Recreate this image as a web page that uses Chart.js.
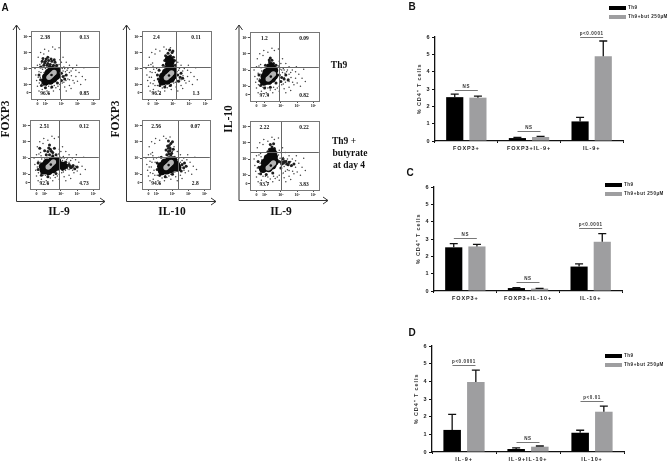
<!DOCTYPE html>
<html><head><meta charset="utf-8">
<script src="https://cdn.jsdelivr.net/npm/chart.js@4"></script>
<style>
html,body{margin:0;padding:0;background:#fff}
#root{position:relative;width:669px;height:464px;overflow:hidden;filter:blur(.4px)}
canvas{position:absolute}
.t{position:absolute;white-space:nowrap;transform:translate(-50%,-50%);color:#111}
.s{font-family:"Liberation Serif",serif;font-weight:bold}
.a{font-family:"Liberation Sans",Arial,sans-serif;font-weight:bold;font-size:10px}
svg{position:absolute;left:0;top:0}
</style></head><body><div id="root">
<svg width="669" height="464" fill="none" stroke="#333" stroke-width="1">
<path d="M16.5 25V201.5H105M13 30L16.5 25L20 30M100 198L105 201.5L100 205"/>
<path d="M126.5 25V201.5H216M123 30L126.5 25L130 30M211 198L216 201.5L211 205"/>
<path d="M239 25V200.5H328M235.500 30L239 25L242.500 30M323 197L328 200.500L323 204"/>
</svg>
</div>
<script>
// ---------- bar chart values ----------
const seriesNames = ['Th9', 'Th9+but 250\u00b5M'];
const catsB = ['FOXP3+', 'FOXP3+IL-9+', 'IL-9+'];
const th9B = [2.53, 0.17, 1.13];
const butB = [2.50, 0.23, 4.89];
const th9TopB = [2.71, 0.21, 1.36];
const butTopB = [2.59, 0.27, 5.77];
const sigLabelsB = ['NS', 'NS', 'p<0.0001'];
const sigLevelsB = [2.96, 0.55, 6.0];

const catsC = ['FOXP3+', 'FOXP3+IL-10+', 'IL-10+'];
const th9C = [2.52, 0.17, 1.41];
const butC = [2.57, 0.14, 2.84];
const th9TopC = [2.73, 0.19, 1.57];
const butTopC = [2.69, 0.155, 3.31];
const sigLabelsC = ['NS', 'NS', 'p<0.0001'];
const sigLevelsC = [3.04, 0.54, 3.64];

const catsD = ['IL-9+', 'IL-9+IL-10+', 'IL-10+'];
const th9D = [1.25, 0.17, 1.09];
const butD = [3.96, 0.30, 2.28];
const th9TopD = [2.13, 0.23, 1.23];
const butTopD = [4.64, 0.34, 2.60];
const sigLabelsD = ['p<0.0001', 'NS', 'p<0.01'];
const sigLevelsD = [4.9, 0.55, 2.87];

// ---------- flow cytometry panels: quadrant percentages (UL, UR, LL, LR) ----------
const stats1 = ['2.38', '0.13', '96.6', '0.85'];
const stats2 = ['2.4', '0.11', '96.2', '1.3'];
const stats3 = ['1.2', '0.09', '97.9', '0.82'];
const stats4 = ['2.51', '0.12', '92.6', '4.73'];
const stats5 = ['2.56', '0.07', '94.6', '2.8'];
const stats6 = ['2.22', '0.22', '93.7', '3.83'];
// quadrant gates, in log decades
const gate1 = [2.94, 3.08], gate2 = [3.2, 3.08], gate3 = [2.9, 3.2];
const gate4 = [2.9, 3.08], gate5 = [3.33, 3.08], gate6 = [3.0, 3.45];
const decadeTicks = [1.5, 2, 3, 4, 5];
const decadeLabels = ['0', '10\u00b2', '10\u00b3', '10\u2074', '10\u2075'];

// estimated event clouds [x, y], in log decades
const dense1 = [[2.0,2.2],[2.1,2.28],[2.25,2.4],[2.4,2.6],[2.58,2.78],[2.68,2.88],[2.05,2.48],[2.3,2.25],[2.5,2.38],[2.68,2.55],[2.2,2.72],[2.42,2.9],[2.15,2.35],[2.55,2.6],[2.3,2.78]];
const lobe1 = [[1.7,3.1],[1.9,3.2],[2.1,3.2],[2.3,3.25],[2.5,3.2],[2.7,3.2],[2.0,3.45],[2.2,3.5],[2.4,3.45],[1.8,3.45],[2.6,3.4],[2.15,3.7],[3.0,2.7],[3.1,2.5],[3.2,2.35],[3.0,2.25],[3.3,2.6],[1.7,2.3],[1.6,2.6],[1.75,1.95],[2.0,1.8],[2.4,1.85],[2.75,2.1],[1.95,3.35],[2.15,3.32],[2.35,3.6],[2.55,3.55],[1.85,3.62],[2.25,3.15],[2.05,3.6]];
const dense2 = [[2.35,2.2],[2.48,2.28],[2.6,2.4],[2.76,2.55],[2.92,2.72],[3.0,2.85],[2.4,2.5],[2.65,2.25],[2.88,2.38],[3.0,2.55],[2.58,2.75],[2.8,2.92],[2.78,3.25],[2.85,3.42],[2.75,3.55],[2.7,2.45],[2.82,3.1]];
const lobe2 = [[2.4,3.2],[2.5,3.5],[2.55,3.8],[2.7,3.95],[2.95,4.0],[3.1,3.5],[3.15,3.2],[3.0,4.1],[2.8,4.15],[3.3,2.6],[3.45,2.45],[3.5,2.7],[3.35,2.2],[3.6,2.4],[2.1,2.35],[2.05,2.6],[2.2,1.95],[2.5,1.85],[2.85,1.95],[2.15,2.9],[2.6,3.3],[2.55,3.1],[2.62,3.65],[2.85,3.8],[3.02,3.7]];
const dense3 = [[1.95,2.3],[2.05,2.38],[2.2,2.5],[2.3,2.68],[2.48,2.86],[2.58,2.98],[2.0,2.6],[2.25,2.35],[2.45,2.48],[2.58,2.65],[2.12,2.85],[2.33,3.0],[2.38,3.2]];
const lobe3 = [[2.2,3.3],[2.3,3.5],[2.45,3.6],[2.55,3.4],[2.7,3.3],[2.05,3.3],[2.35,3.75],[2.9,2.7],[3.05,2.55],[3.2,2.45],[3.0,2.3],[3.3,2.7],[3.45,2.4],[1.7,2.35],[1.65,2.7],[1.75,2.05],[2.0,1.9],[2.35,1.95],[2.7,2.2],[2.15,3.15],[2.6,3.2],[2.4,3.42],[2.28,3.62]];
const dense4 = [[1.95,2.25],[2.05,2.28],[2.25,2.4],[2.44,2.57],[2.62,2.72],[2.76,2.82],[1.9,2.48],[2.25,2.2],[2.52,2.33],[2.76,2.48],[2.15,2.72],[2.48,2.85],[2.98,2.55],[3.15,2.52]];
const lobe4 = [[2.1,3.2],[2.2,3.4],[2.35,3.55],[2.5,3.35],[2.6,3.6],[2.7,3.2],[2.0,3.45],[2.3,3.8],[1.7,3.6],[3.2,2.6],[3.35,2.45],[3.5,2.6],[3.6,2.4],[3.75,2.55],[3.85,2.35],[4.0,2.45],[3.3,2.75],[3.1,2.3],[1.6,2.3],[1.6,2.7],[1.8,1.95],[2.2,1.85],[2.7,2.05],[2.3,3.2],[2.42,3.42],[2.25,3.62],[3.4,2.55],[3.55,2.5],[3.7,2.45],[3.25,2.4],[2.5,3.15]];
const dense5 = [[2.35,2.2],[2.48,2.28],[2.6,2.4],[2.76,2.57],[2.92,2.72],[3.05,2.85],[2.3,2.5],[2.65,2.25],[2.88,2.33],[3.1,2.45],[2.52,2.72],[2.8,2.85],[3.22,2.58],[3.3,2.42]];
const lobe5 = [[2.65,3.2],[2.75,3.4],[2.85,3.6],[2.7,3.75],[2.95,3.3],[3.05,3.55],[2.9,3.9],[2.6,3.5],[2.75,4.05],[3.0,4.0],[3.6,2.6],[3.7,2.4],[3.75,2.7],[3.55,2.2],[3.85,2.5],[2.05,2.3],[2.05,2.7],[2.2,1.95],[2.55,1.85],[3.0,2.0],[2.3,3.05],[2.78,3.25],[2.85,3.45],[2.75,3.6],[2.9,3.2],[2.8,3.78]];
const dense6 = [[1.9,2.4],[2.0,2.48],[2.15,2.6],[2.36,2.8],[2.48,2.98],[2.56,3.15],[2.02,2.78],[2.25,2.45],[2.48,2.62],[2.62,2.85],[2.2,3.05],[2.4,3.25],[2.48,3.42]];
const lobe6 = [[2.3,3.6],[2.45,3.75],[2.6,3.65],[2.2,3.45],[2.7,3.4],[2.55,3.95],[2.35,3.9],[2.9,2.85],[3.05,2.7],[3.2,2.85],[3.35,2.7],[3.5,2.8],[3.65,2.6],[3.8,2.7],[3.1,3.0],[3.0,2.45],[1.65,2.5],[1.6,2.85],[1.75,2.1],[2.1,2.05],[2.5,2.15],[3.0,2.8],[3.15,2.75],[3.3,2.85],[3.45,2.65],[2.4,3.6],[2.52,3.55]];
const coreLow = [[2.22,2.45],[2.3,2.52],[2.38,2.6],[2.46,2.68],[2.54,2.76]];
const coreHigh = [[2.6,2.42],[2.68,2.5],[2.76,2.57],[2.84,2.65],[2.92,2.73]];
const speckCloud = [[1.4,2.6],[1.5,3.2],[1.55,3.7],[1.7,4.0],[1.9,3.9],[2.2,4.1],[2.6,4.2],[3.1,3.7],[3.3,3.4],[3.5,3.2],[3.7,3.0],[3.9,2.9],[4.1,2.75],[4.3,2.5],[4.0,2.2],[3.8,2.1],[3.5,1.95],[3.2,1.85],[2.9,1.7],[2.5,1.6],[2.1,1.6],[1.8,1.7],[1.5,1.9],[1.45,2.25],[3.4,3.0],[3.6,2.85],[3.15,3.1],[1.95,4.2],[2.45,4.35],[2.85,4.3],[3.6,1.75],[4.2,2.0],[1.35,3.0],[1.6,1.6],[3.3,1.6],[3.95,3.2],[4.5,2.3],[1.75,3.35],[2.2,1.45],[4.4,3.05],
 [1.62,2.1],[1.68,2.45],[1.72,2.75],[1.82,2.95],[1.55,2.45],[1.6,2.8],[1.9,1.95],[2.05,1.95],[2.2,1.9],[2.35,1.78],[2.55,1.95],[2.65,1.8],[2.78,1.9],[2.9,2.0],[3.05,2.1],[3.15,2.15],[3.28,2.25],[3.4,2.35],[3.5,2.3],[3.62,2.55],[3.2,2.55],[3.25,2.8],[3.1,2.85],[3.05,3.0],[2.95,3.05],[3.2,3.0],[3.35,2.9],[3.5,2.75],[3.72,2.25],[3.9,2.5],[1.85,2.25],[1.78,2.05],[1.92,2.75],[2.0,3.0],[2.15,3.05],[2.85,3.25],[3.0,3.4],[2.9,3.55],[1.65,3.25],[1.78,3.15]];

const root = document.getElementById('root');
function txt(s, x, y, cls, size, rot) {
  const d = document.createElement('div');
  d.className = 't ' + cls; d.textContent = s;
  d.style.left = x + 'px'; d.style.top = y + 'px';
  if (size) d.style.fontSize = size + 'px';
  if (rot) d.style.transform = 'translate(-50%,-50%) rotate(-90deg)';
  root.appendChild(d);
}
function mkCanvas(l, t, w, h) {
  const c = document.createElement('canvas');
  c.width = w; c.height = h; c.style.left = l + 'px'; c.style.top = t + 'px';
  root.appendChild(c); return c.getContext('2d');
}
[['FOXP3',5,119,11.5],['FOXP3',115,119,11.5],['IL-10',228,119,11.5]].forEach(a => txt(a[0], a[1], a[2], 's', a[3], true));
[['IL-9',59,211],['IL-10',172,211],['IL-9',281,211]].forEach(a => txt(a[0], a[1], a[2], 's', 11.5));
txt('Th9', 339, 65, 's', 9.5);
txt('Th9 +', 344, 141, 's', 9.5);
txt('butyrate', 350, 153, 's', 9.5);
txt('at day 4', 349, 165, 's', 9.5);
txt('A', 5, 7, 'a'); txt('B', 412, 6, 'a'); txt('C', 410, 172, 'a'); txt('D', 412, 332, 'a');

const LABEL_FONT = '"Liberation Sans", Arial, sans-serif';
const barPlugin = {
  id: 'barExtras',
  beforeDraw(c) { c.ctx.letterSpacing = '0.9px'; },
  afterDatasetsDraw(c) {
    const o = c.config.options.extras, ctx = c.ctx, y = c.scales.y, x = c.scales.x;
    ctx.save();
    [0, 1].forEach(i => {
      const meta = c.getDatasetMeta(i);
      o.tops[i].forEach((v, k) => {
        const px = meta.data[k].x, top = y.getPixelForValue(v), base = meta.data[k].y;
        ctx.strokeStyle = '#111'; ctx.lineWidth = 1.3;
        ctx.beginPath(); ctx.moveTo(px, base); ctx.lineTo(px, top);
        ctx.moveTo(px - 4, top); ctx.lineTo(px + 4, top); ctx.stroke();
      });
    });
    ctx.font = 'bold 4.5px ' + LABEL_FONT; ctx.textAlign = 'center'; ctx.textBaseline = 'bottom';
    ctx.letterSpacing = '0.6px';
    o.sigLevels.forEach((v, k) => {
      const cx = x.getPixelForValue(k), py = Math.round(y.getPixelForValue(v)) + .5;
      ctx.strokeStyle = '#777'; ctx.lineWidth = 1;
      ctx.beginPath(); ctx.moveTo(cx - 11.5, py); ctx.lineTo(cx + 11.5, py); ctx.stroke();
      ctx.fillStyle = '#333'; ctx.fillText(o.sigLabels[k], cx, py - 1);
    });
    ctx.textAlign = 'left'; ctx.textBaseline = 'middle'; ctx.letterSpacing = '0.55px';
    seriesNames.forEach((n, i) => {
      const ly = o.legendY + i * 9;
      ctx.fillStyle = c.data.datasets[i].backgroundColor;
      ctx.fillRect(o.legendX, ly - 2, 17, 4);
      ctx.fillStyle = '#222'; ctx.fillText(n, o.legendX + 19, ly);
    });
    ctx.restore();
  }
};
function barChart(cfg) {
  const ctx = mkCanvas(cfg.left, cfg.y0, 669 - cfg.left, cfg.h);
  new Chart(ctx, {
    type: 'bar',
    plugins: [barPlugin],
    data: { labels: cfg.cats, datasets: [
      { label: seriesNames[0], data: cfg.a, backgroundColor: '#000000', categoryPercentage: 0.74, barPercentage: 0.74 },
      { label: seriesNames[1], data: cfg.b, backgroundColor: '#9e9ea0', categoryPercentage: 0.74, barPercentage: 0.74 }
    ]},
    options: {
      responsive: false, animation: false,
      layout: { padding: { top: cfg.top, right: cfg.right, left: 0, bottom: 0 } },
      plugins: { legend: { display: false }, tooltip: { enabled: false } },
      extras: { tops: cfg.tops, sigLevels: cfg.sigLevels, sigLabels: cfg.sigLabels, legendX: cfg.lx, legendY: cfg.ly },
      scales: {
        x: { grid: { display: true, drawOnChartArea: false, tickLength: 2, color: '#111', tickWidth: 1 },
             border: { color: '#111', width: 1.2 },
             ticks: { color: '#222', font: { family: LABEL_FONT, size: 5.5, weight: 'bold' }, padding: 2, maxRotation: 0, autoSkip: false },
             afterFit(s) { s.height = 12; } },
        y: { min: 0, max: 6,
             grid: { display: true, drawOnChartArea: false, tickLength: 3, color: '#111', tickWidth: 1 },
             border: { color: '#111', width: 1.3 },
             ticks: { stepSize: 1, color: '#222', font: { family: LABEL_FONT, size: 5.5, weight: 'bold' }, padding: 1.500 },
             title: { display: true, text: '% CD4\u207a T cells', color: '#333', padding: { top: 11, bottom: 0 },
                      font: { family: LABEL_FONT, size: 5.5, weight: 'bold' } },
             afterFit(s) { s.width = 30; } }
      }
    }
  });
}
barChart({ left: 405, y0: 0, h: 153, top: 37, right: 46, cats: catsB, a: th9B, b: butB, tops: [th9TopB, butTopB], sigLevels: sigLevelsB, sigLabels: sigLabelsB, lx: 204, ly: 8 });
barChart({ left: 404, y0: 165, h: 138, top: 22, right: 47, cats: catsC, a: th9C, b: butC, tops: [th9TopC, butTopC], sigLevels: sigLevelsC, sigLabels: sigLabelsC, lx: 201, ly: 20 });
barChart({ left: 402, y0: 325, h: 139, top: 21, right: 45, cats: catsD, a: th9D, b: butD, tops: [th9TopD, butTopD], sigLevels: sigLevelsD, sigLabels: sigLabelsD, lx: 203, ly: 31 });

const flowPlugin = {
  id: 'flowExtras',
  afterDatasetsDraw(c) {
    const o = c.config.options.extras, ctx = c.ctx, a = c.chartArea, x = c.scales.x, y = c.scales.y;
    ctx.save();
    ctx.strokeStyle = '#666'; ctx.lineWidth = 1;
    const gx = Math.round(x.getPixelForValue(o.gate[0])) + .5, gy = Math.round(y.getPixelForValue(o.gate[1])) + .5;
    ctx.beginPath(); ctx.moveTo(gx, a.top); ctx.lineTo(gx, a.bottom); ctx.moveTo(a.left, gy); ctx.lineTo(a.right, gy); ctx.stroke();
    ctx.strokeStyle = '#777';
    ctx.strokeRect(Math.round(a.left) + .5, Math.round(a.top) + .5, Math.round(a.width), Math.round(a.height));
    ctx.font = 'bold 5.5px "Liberation Serif", serif'; ctx.fillStyle = '#111'; ctx.textAlign = 'center'; ctx.textBaseline = 'middle';
    const xs = [1.98, 4.42, 1.98, 4.42], ys = [4.96, 4.96, 1.42, 1.42];
    o.stats.forEach((s, i) => ctx.fillText(s, x.getPixelForValue(xs[i]), y.getPixelForValue(ys[i])));
    ctx.restore();
  }
};
function xy(list) { return list.map(p => ({ x: p[0], y: p[1] })); }
function flowChart(cfg) {
  const ax = (h) => ({
    type: 'linear', min: 1.1, max: 5.33,
    afterBuildTicks(s) { s.ticks = decadeTicks.map(v => ({ value: v })); },
    grid: { display: true, drawOnChartArea: false, tickLength: 2, color: '#222', tickWidth: .8 },
    border: { display: false },
    ticks: { autoSkip: false, maxRotation: 0, padding: .5, color: '#222',
      font: { family: '"Liberation Serif", serif', size: 4, weight: 'bold' },
      callback(v) { return decadeLabels[decadeTicks.indexOf(v)]; } },
    afterFit: h
  });
  const ctx = mkCanvas(cfg.l - 14, cfg.t - 2, cfg.w + 16, cfg.h + 12);
  const ds = (label, list, r, color) => ({ label, data: xy(list), pointRadius: r, pointBackgroundColor: color, pointBorderWidth: 0, showLine: false });
  new Chart(ctx, {
    type: 'scatter',
    plugins: [flowPlugin],
    data: { datasets: [
      ds('centre', cfg.core.slice(2, 3), 1.3, '#111111'),
      ds('core', cfg.core, 2.7, '#b4b4b4'),
      ds('dense', cfg.dense, 4.2, '#0a0a0a'),
      ds('lobe', cfg.lobe, 1.5, '#1e1e1e'),
      ds('speck', speckCloud, 0.75, '#444444')
    ]},
    options: {
      responsive: false, animation: false,
      layout: { padding: { top: 2, right: 2, left: 0, bottom: 0 } },
      plugins: { legend: { display: false }, tooltip: { enabled: false } },
      extras: { gate: cfg.gate, stats: cfg.stats },
      scales: { x: ax(s => { s.height = 10; }), y: ax(s => { s.width = 14; }) }
    }
  });
}
flowChart({ l: 31, t: 29, w: 70, h: 70, dense: dense1, lobe: lobe1, core: coreLow, gate: gate1, stats: stats1 });
flowChart({ l: 142, t: 29, w: 71, h: 70, dense: dense2, lobe: lobe2, core: coreHigh, gate: gate2, stats: stats2 });
flowChart({ l: 250, t: 30, w: 71, h: 71, dense: dense3, lobe: lobe3, core: coreLow, gate: gate3, stats: stats3 });
flowChart({ l: 30, t: 118, w: 71, h: 71, dense: dense4, lobe: lobe4, core: coreLow, gate: gate4, stats: stats4 });
flowChart({ l: 142, t: 118, w: 70, h: 71, dense: dense5, lobe: lobe5, core: coreHigh, gate: gate5, stats: stats5 });
flowChart({ l: 250, t: 119, w: 71, h: 71, dense: dense6, lobe: lobe6, core: coreLow, gate: gate6, stats: stats6 });
</script></body></html>
